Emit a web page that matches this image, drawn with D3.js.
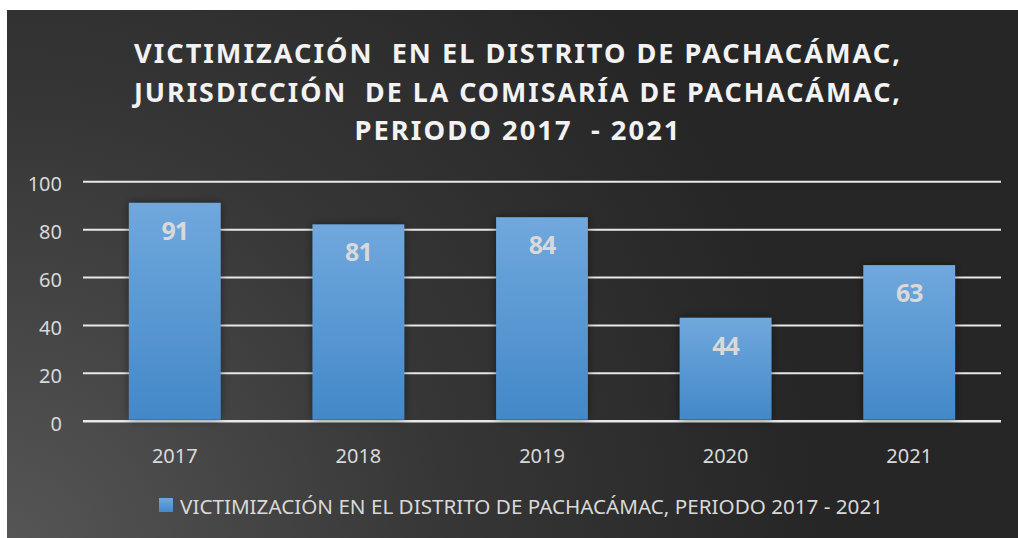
<!DOCTYPE html>
<html>
<head>
<meta charset="utf-8">
<script src="https://d3js.org/d3.v7.min.js"></script>
<style>
  body { margin: 0; background: #ffffff; }
  svg { display: block; }
</style>
</head>
<body>
<div id="chart"></div>
<script>
var years = ["2017", "2018", "2019", "2020", "2021"];
// bar heights as drawn, and the numbers printed on them
var barValues = [91, 82, 85, 43, 65];
var labelValues = [91, 81, 84, 44, 63];
var yTicks = [0, 20, 40, 60, 80, 100];
var titleLines = [
  "VICTIMIZACIÓN  EN EL DISTRITO DE PACHACÁMAC,",
  "JURISDICCIÓN  DE LA COMISARÍA DE PACHACÁMAC,",
  "PERIODO 2017  - 2021"
];
var legendLabel = "VICTIMIZACIÓN EN EL DISTRITO DE PACHACÁMAC, PERIODO 2017 - 2021";

var width = 1018, height = 538;
var fontFamily = "'Noto Sans', 'Open Sans', sans-serif";

var svg = d3.select("#chart").append("svg")
    .attr("width", width)
    .attr("height", height);

var defs = svg.append("defs");

var bg = defs.append("radialGradient")
    .attr("id", "bg")
    .attr("gradientUnits", "userSpaceOnUse")
    .attr("cx", 0).attr("cy", 560).attr("r", 820);
bg.append("stop").attr("offset", "0%").attr("stop-color", "#575757");
bg.append("stop").attr("offset", "55%").attr("stop-color", "#363636");
bg.append("stop").attr("offset", "100%").attr("stop-color", "#262626");

var barGrad = defs.append("linearGradient")
    .attr("id", "barGrad")
    .attr("x1", 0).attr("y1", 0).attr("x2", 0).attr("y2", 1);
barGrad.append("stop").attr("offset", "0%").attr("stop-color", "#70a8dd");
barGrad.append("stop").attr("offset", "100%").attr("stop-color", "#4388c8");

var shadow = defs.append("filter")
    .attr("id", "shadow")
    .attr("x", "-20%").attr("y", "-20%").attr("width", "140%").attr("height", "140%");
shadow.append("feGaussianBlur").attr("in", "SourceAlpha").attr("stdDeviation", 4).attr("result", "blur");
shadow.append("feFlood").attr("flood-color", "#000").attr("flood-opacity", 0.45);
shadow.append("feComposite").attr("in2", "blur").attr("operator", "in").attr("result", "sh");
var merge = shadow.append("feMerge");
merge.append("feMergeNode").attr("in", "sh");
merge.append("feMergeNode").attr("in", "SourceGraphic");

// chart area
svg.append("rect")
    .attr("x", 7).attr("y", 10)
    .attr("width", width - 7).attr("height", height - 10)
    .attr("fill", "url(#bg)");

// title
svg.append("g").selectAll("text")
  .data(titleLines)
  .enter().append("text")
    .attr("x", 518)
    .attr("y", function(d, i) { return 63 + i * 38.5; })
    .attr("text-anchor", "middle")
    .attr("fill", "#f2f2f2")
    .attr("font-family", fontFamily)
    .attr("font-weight", "bold")
    .attr("font-size", "27px")
    .attr("letter-spacing", "2px")
    .style("white-space", "pre")
    .attr("textLength", function(d, i) { return [768, 768, 327][i]; })
    .attr("lengthAdjust", "spacingAndGlyphs")
    .text(function(d) { return d; });

var x = d3.scaleBand()
    .domain(years)
    .range([83, 1001])
    .paddingInner(0.5)
    .paddingOuter(0.25);

var y = d3.scaleLinear()
    .domain([0, 100])
    .range([420.7, 181.3]);

// gridlines
svg.append("g")
    .attr("transform", "translate(83,0)")
    .call(d3.axisLeft(y).tickValues(yTicks).tickSize(-918).tickFormat(""))
    .call(function(g) { g.select(".domain").remove(); })
    .selectAll("line")
    .attr("stroke", "#e8e8e8")
    .attr("stroke-width", function(d) { return d === 0 ? 2.5 : 2; });

// y labels
svg.append("g")
    .attr("transform", "translate(62,3)")
    .call(d3.axisLeft(y).tickValues(yTicks).tickSize(0).tickPadding(0))
    .call(function(g) { g.select(".domain").remove(); })
    .selectAll("text")
    .attr("fill", "#d9d9d9")
    .attr("font-family", fontFamily)
    .attr("font-size", "20px");

// x labels
svg.append("g")
    .attr("transform", "translate(0,445)")
    .call(d3.axisBottom(x).tickSize(0).tickPadding(0))
    .call(function(g) { g.select(".domain").remove(); })
    .selectAll("text")
    .attr("fill", "#d9d9d9")
    .attr("font-family", fontFamily)
    .attr("font-size", "20px")
    .attr("dy", "0.9em");

// bars
svg.append("g").selectAll("rect")
  .data(barValues)
  .enter().append("rect")
    .attr("x", function(d, i) { return x(years[i]); })
    .attr("y", function(d) { return y(d); })
    .attr("width", x.bandwidth())
    .attr("height", function(d) { return y(0) - y(d) - 1; })
    .attr("fill", "url(#barGrad)")
    .attr("filter", "url(#shadow)");

// value labels
svg.append("g").selectAll("text")
  .data(labelValues)
  .enter().append("text")
    .attr("x", function(d, i) { return x(years[i]) + x.bandwidth() / 2; })
    .attr("y", function(d, i) { return y(barValues[i]) + 37; })
    .attr("text-anchor", "middle")
    .attr("fill", "#d9d9d9")
    .attr("font-family", fontFamily)
    .attr("font-weight", "bold")
    .attr("font-size", "25px")
    .attr("letter-spacing", "-1px")
    .text(function(d) { return d; });

// legend
var legend = svg.append("g");
legend.append("rect")
    .attr("x", 159).attr("y", 498)
    .attr("width", 14).attr("height", 14)
    .attr("fill", "url(#barGrad)");
legend.append("text")
    .attr("x", 180).attr("y", 514)
    .attr("fill", "#d9d9d9")
    .attr("font-family", fontFamily)
    .attr("font-size", "19px")
    .attr("textLength", 703)
    .attr("lengthAdjust", "spacingAndGlyphs")
    .text(legendLabel);
</script>
</body>
</html>
